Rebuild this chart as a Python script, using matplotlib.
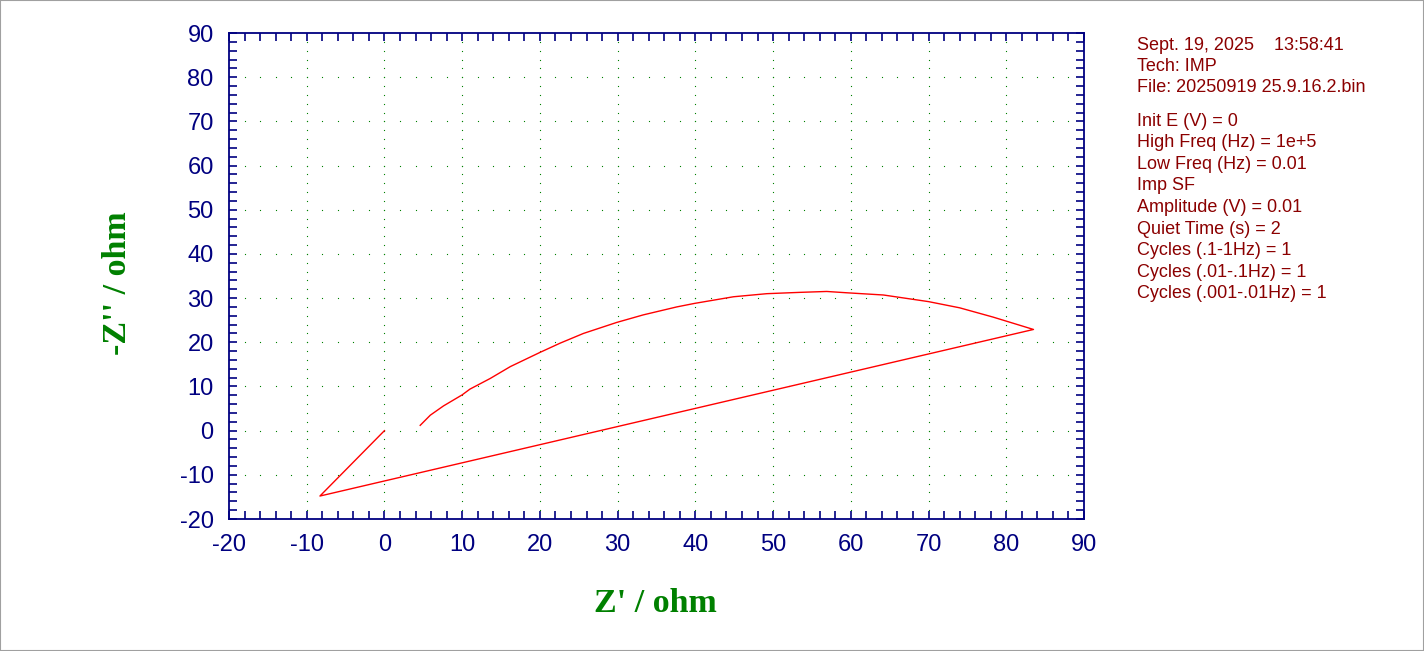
import numpy as np
import matplotlib.pyplot as plt
from matplotlib.patches import Rectangle

plt.rcParams['axes.unicode_minus'] = False

# Nyquist data (ohm)
z_re = [4.6, 5.9, 7.6, 10.0, 11.0, 13.6, 16.2, 20.0, 22.6, 25.6, 29.9, 33.3, 37.6, 39.9,
        44.9, 49.2, 53.5, 56.9, 59.5, 64.2, 70.0, 74.0, 78.3, 83.5, -8.3, 0.0]
z_im = [1.2, 3.5, 5.6, 8.1, 9.4, 11.8, 14.5, 17.7, 19.8, 22.0, 24.5, 26.2, 28.0, 28.8,
        30.3, 31.0, 31.3, 31.5, 31.2, 30.7, 29.2, 27.8, 25.7, 22.9, -14.8, 0.0]

info_top = ["Sept. 19, 2025    13:58:41", "Tech: IMP", "File: 20250919 25.9.16.2.bin"]
info_params = ["Init E (V) = 0", "High Freq (Hz) = 1e+5", "Low Freq (Hz) = 0.01", "Imp SF",
               "Amplitude (V) = 0.01", "Quiet Time (s) = 2", "Cycles (.1-1Hz) = 1",
               "Cycles (.01-.1Hz) = 1", "Cycles (.001-.01Hz) = 1"]

major = np.arange(-20, 91, 10)
minor = np.arange(-20, 91, 2)

fig = plt.figure(figsize=(14.24, 6.51), dpi=100)
fig.patches.append(Rectangle((0, 0), 1, 1, transform=fig.transFigure, fill=False,
                             edgecolor='#a0a0a0', linewidth=1.5))
ax = fig.add_axes([229/1424, 1 - 519/651, 855/1424, 486/651])

# dotted grid: dots at minor steps along the major lines
inner = major[1:-1]
gx, gy = np.meshgrid(inner, minor[1:-1])
ax.plot(gx.ravel(), gy.ravel(), ls='none', marker='s', ms=0.8, mew=0, color='#008000')
ax.plot(gy.ravel(), gx.ravel(), ls='none', marker='s', ms=0.8, mew=0, color='#008000')

ax.plot(z_re, z_im, color='red', lw=1.0)

ax.set_xlim(-20, 90)
ax.set_ylim(-20, 90)
ax.set_xticks(major)
ax.set_yticks(major)
ax.set_xticks(minor, minor=True)
ax.set_yticks(minor, minor=True)
ax.tick_params(which='both', direction='in', length=5.5, width=1.2, color='navy',
               top=True, right=True)
ax.tick_params(which='major', labelsize=17, labelcolor='navy', pad=11)
for lab in ax.get_xticklabels() + ax.get_yticklabels():
    lab.set_fontfamily('Liberation Sans')
for s in ax.spines.values():
    s.set_color('navy')
    s.set_linewidth(1.3)

fig.text(655/1424, 1 - 604/651, "Z' / ohm", ha='center', va='center', color='green',
         fontsize=24.5, fontweight='bold', family='Liberation Serif')
fig.text(117/1424, 1 - 283/651, "-Z'' / ohm", ha='center', va='center', color='green',
         fontsize=24.5, fontweight='bold', family='Liberation Serif', rotation=90)

y = 45
for t in info_top:
    fig.text(1137/1424, 1 - y/651, t, ha='left', va='center', color='#8b0000',
             fontsize=13, family='Liberation Sans')
    y += 21.5
y = 121
for t in info_params:
    fig.text(1137/1424, 1 - y/651, t, ha='left', va='center', color='#8b0000',
             fontsize=13, family='Liberation Sans')
    y += 21.6

fig.savefig('out.png', dpi=100)
